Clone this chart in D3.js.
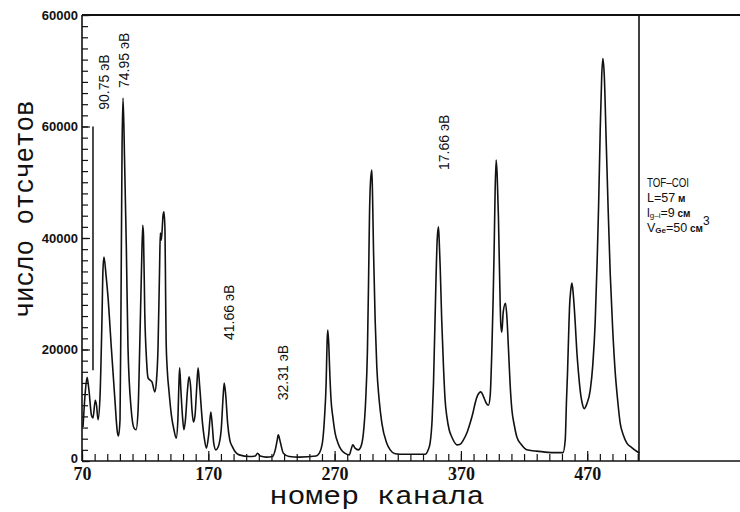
<!DOCTYPE html>
<html>
<head>
<meta charset="utf-8">
<script src="https://cdn.jsdelivr.net/npm/d3@7"></script>
<style>
  body { margin: 0; background: #fff; }
  svg { display: block; }
</style>
</head>
<body>
<svg id="chart" width="740" height="512"></svg>
<script>
// spectrum: [channel, counts]
var spectrum = [
  [70.8, 6100], [72.4, 11800], [74.0, 15000], [75.5, 12700], [77.5, 8200], [78.7, 7700],
  [80.5, 10900], [81.5, 10000], [82.7, 7400], [84.3, 11800], [85.8, 25300], [86.6, 34300],
  [87.4, 36600], [89.0, 33400], [90.6, 29400], [93.2, 20400], [95.9, 11500], [98.0, 5200],
  [98.9, 4500], [100.1, 7400], [100.9, 28900], [101.7, 55800], [102.5, 65100], [103.7, 54000],
  [105.1, 38400], [106.4, 20400], [109.0, 9100], [111.2, 5900], [112.8, 5600], [114.4, 9100],
  [115.7, 20400], [117.1, 34300], [118.1, 42300], [118.7, 40500], [119.7, 26500], [121.1, 18100],
  [122.3, 14900], [123.9, 14500], [125.4, 14200], [127.6, 12400], [129.0, 14500], [130.2, 20400],
  [131.4, 34300], [132.0, 40900], [132.8, 39600], [134.2, 44100], [134.9, 44700], [135.7, 41400],
  [136.2, 30000], [136.6, 21700], [137.6, 16000], [138.8, 12700], [140.8, 8200], [142.8, 5600],
  [144.6, 4100], [145.9, 7400], [146.7, 13600], [147.3, 16700], [148.3, 12700], [149.5, 8200],
  [150.7, 5600], [151.9, 7400], [153.5, 12700], [154.7, 15100], [155.9, 13600], [157.1, 9100],
  [158.2, 7000], [159.5, 8200], [160.7, 12700], [161.9, 16700], [163.1, 13600], [165.4, 6800],
  [166.7, 4300], [168.5, 2300], [170.3, 4700], [172.0, 8800], [173.1, 6500], [174.3, 3200],
  [176.0, 2000], [177.8, 2500], [180.2, 5600], [181.8, 11800], [182.6, 14000], [183.8, 11800],
  [185.3, 6800], [187.0, 3800], [189.2, 2500], [194.5, 1100], [202.5, 800], [207.2, 900],
  [209.0, 1400], [211.1, 900], [215.9, 700], [220.9, 800], [223.0, 2000], [224.6, 3800],
  [225.4, 4700], [227.0, 3400], [229.4, 1400], [234.1, 800], [242.1, 700], [255.3, 900],
  [257.9, 1400], [260.3, 3200], [261.9, 7400], [263.3, 14000], [264.1, 21700], [264.6, 23500],
  [265.4, 20800], [266.0, 16900], [267.2, 10900], [268.6, 7900], [270.4, 5000], [272.7, 3200],
  [278.0, 1400], [281.7, 1100], [283.1, 2100], [284.4, 2900], [286.2, 2300], [288.8, 2000],
  [291.0, 2700], [292.8, 5000], [294.6, 10900], [296.0, 19900], [296.9, 32500], [297.6, 43800],
  [298.5, 50400], [299.5, 52200], [300.1, 46800], [300.8, 37800], [302.1, 25300], [303.4, 16900],
  [305.3, 10900], [307.4, 6800], [311.3, 3200], [314.0, 2000], [317.9, 1300], [325.8, 1200],
  [341.7, 1200], [344.1, 2000], [345.6, 3200], [347.2, 7400], [348.3, 14000], [350.2, 31900],
  [351.2, 39600], [352.2, 42000], [352.8, 39600], [353.6, 34800], [354.8, 25300], [356.2, 16900],
  [357.5, 10900], [358.9, 7900], [360.7, 5600], [362.8, 4300], [366.8, 2900], [369.4, 3000],
  [372.0, 3800], [375.0, 5200], [377.3, 6800], [379.7, 8800], [381.3, 10400], [383.3, 11800],
  [385.8, 12400], [387.6, 11700], [390.0, 10400], [391.8, 10000], [393.2, 11800], [394.5, 19900],
  [395.5, 28900], [396.3, 37800], [397.1, 48600], [397.9, 54000], [398.7, 51300], [399.7, 43800],
  [400.7, 32500], [401.6, 24400], [402.4, 23100], [403.5, 26700], [405.3, 28300], [406.3, 26200],
  [407.7, 19900], [409.0, 13600], [410.4, 9100], [412.2, 6500], [414.3, 4300], [417.7, 3000],
  [422.2, 2000], [428.8, 1800], [436.7, 1600], [446.0, 1500], [450.8, 1500], [452.6, 3800],
  [453.6, 10900], [454.4, 15800], [455.4, 23500], [456.0, 27600], [457.0, 30700], [457.9, 31900],
  [459.0, 29800], [460.5, 24800], [461.7, 19900], [463.1, 15800], [464.9, 11800], [466.0, 10400],
  [467.6, 9400], [469.6, 10200], [472.4, 12700], [474.4, 17200], [476.3, 24800], [477.9, 36100],
  [479.0, 45600], [480.3, 59400], [481.5, 69200], [482.4, 72200], [483.5, 69200], [485.0, 57600],
  [486.6, 45000], [488.2, 33700], [490.2, 23500], [492.2, 15800], [494.1, 10900], [496.1, 6800],
  [498.5, 4700], [501.4, 3200], [504.8, 2500], [509.4, 1700], [511.4, 1400]
];

// vertical marker drawn at the 90.75 eV line
var markerChannel = 78.7;
var markerCounts = [16300, 60000];

// rotated peak labels: text, channel, counts at the start of the text
var peakLabels = [
  ["90.75 эВ", 91.4, 63000],
  ["74.95 эВ", 107.2, 66900],
  ["41.66 эВ", 190.4, 21700],
  ["32.31 эВ", 233.2, 10900],
  ["17.66 эВ", 360.7, 52200]
];

var xMajorTicks = [70, 170, 270, 370, 470];
var yMajorTicks = [0, 20000, 40000, 60000, 80000];
var yTickLabels = ["0", "20000", "40000", "60000", "60000"];

var svg = d3.select("#chart");
var W = 740;

var x = d3.scaleLinear().domain([70, 511]).range([82, 639]);
var y = d3.scaleLinear().domain([0, 80000]).range([461, 15]);

// minor x ticks every 10 channels, pointing up
svg.append("g")
   .attr("transform", "translate(0,461)")
   .call(d3.axisBottom(x).tickValues(d3.range(70, 512, 10)).tickSize(-7).tickFormat(""))
   .call(g => g.select(".domain").remove());

svg.append("g")
   .attr("transform", "translate(0,461)")
   .call(d3.axisBottom(x).tickValues(xMajorTicks).tickSize(-10).tickPadding(6))
   .call(g => g.select(".domain").remove())
   .call(g => g.selectAll("text")
      .attr("font-family", "Liberation Serif")
      .attr("font-weight", "bold")
      .attr("font-size", 18)
      .attr("fill", "#111"));

// y ticks every 2000, pointing right
svg.append("g")
   .attr("transform", "translate(82,0)")
   .call(d3.axisLeft(y).tickValues(d3.range(0, 80001, 2000)).tickSize(-6).tickFormat(""))
   .call(g => g.select(".domain").remove());

svg.append("g")
   .attr("transform", "translate(82,0)")
   .call(d3.axisLeft(y).tickValues(yMajorTicks).tickSize(-8).tickPadding(4)
          .tickFormat((d, i) => yTickLabels[i]))
   .call(g => g.select(".domain").remove())
   .call(g => g.selectAll("text")
      .attr("font-family", "Liberation Sans")
      .attr("font-weight", "bold")
      .attr("font-size", 13)
      .attr("fill", "#111"));

// the "0" sits a little higher so it clears the "70" below it
svg.selectAll("g.tick text").filter(d => d === 0).attr("dy", "0.1em");

svg.selectAll(".tick line").attr("stroke", "#111").attr("stroke-width", 1.2);

// frame: top and bottom run to the right edge
var frame = svg.append("g").attr("stroke", "#111").attr("fill", "none");
frame.append("line").attr("x1", 82).attr("x2", W).attr("y1", y(80000)).attr("y2", y(80000)).attr("stroke-width", 2);
frame.append("line").attr("x1", 82).attr("x2", W).attr("y1", y(0)).attr("y2", y(0)).attr("stroke-width", 1.6);
frame.append("line").attr("x1", 82).attr("x2", 82).attr("y1", y(0)).attr("y2", y(80000)).attr("stroke-width", 1.6);
frame.append("line").attr("x1", x(511)).attr("x2", x(511)).attr("y1", y(0)).attr("y2", y(80000)).attr("stroke-width", 1.6);

var line = d3.line()
    .x(d => x(d[0]))
    .y(d => y(d[1]))
    .curve(d3.curveMonotoneX);

svg.append("path")
   .datum(spectrum)
   .attr("d", line)
   .attr("fill", "none")
   .attr("stroke", "#111")
   .attr("stroke-width", 1.6)
   .attr("stroke-linejoin", "round");

svg.append("line")
   .attr("x1", x(markerChannel)).attr("x2", x(markerChannel))
   .attr("y1", y(markerCounts[0])).attr("y2", y(markerCounts[1]))
   .attr("stroke", "#111").attr("stroke-width", 1.5);

svg.selectAll(".peak")
   .data(peakLabels)
   .join("text")
   .attr("class", "peak")
   .attr("transform", d => "translate(" + x(d[1]) + "," + y(d[2]) + ") rotate(-90)")
   .attr("font-family", "Liberation Sans")
   .attr("font-size", 14)
   .attr("fill", "#111")
   .text(d => d[0]);

// axis titles
svg.append("text")
   .attr("x", 377).attr("y", 504)
   .attr("text-anchor", "middle")
   .attr("font-family", "Liberation Mono")
   .attr("font-size", 26)
   .attr("textLength", 215)
   .attr("lengthAdjust", "spacingAndGlyphs")
   .attr("fill", "#111")
   .text("номер канала");

svg.append("text")
   .attr("transform", "translate(33,209) rotate(-90)")
   .attr("text-anchor", "middle")
   .attr("font-family", "Liberation Mono")
   .attr("font-size", 28)
   .attr("textLength", 217)
   .attr("lengthAdjust", "spacingAndGlyphs")
   .attr("fill", "#111")
   .text("число отсчетов");

// experiment notes on the right
var note = svg.append("g")
   .attr("font-family", "Liberation Sans")
   .attr("fill", "#111");

note.append("text").attr("x", 647).attr("y", 187).attr("font-size", 13)
    .attr("textLength", 42).attr("lengthAdjust", "spacingAndGlyphs").text("TOF–COI");

var t2 = note.append("text").attr("x", 647).attr("y", 202).attr("font-size", 12.5);
t2.append("tspan").text("L=57");
t2.append("tspan").attr("font-size", 10).attr("font-weight", "bold").text(" м");

var t3 = note.append("text").attr("x", 647).attr("y", 216.5).attr("font-size", 12.5);
t3.append("tspan").text("l");
t3.append("tspan").attr("font-size", 8).attr("dy", 1).text("g–i");
t3.append("tspan").attr("dy", -1).text("=9");
t3.append("tspan").attr("font-size", 10).attr("font-weight", "bold").text(" см");

var t4 = note.append("text").attr("x", 647).attr("y", 232).attr("font-size", 12.5);
t4.append("tspan").text("V");
t4.append("tspan").attr("font-size", 8).attr("font-weight", "bold").attr("dy", 1).text("Ge");
t4.append("tspan").attr("dy", -1).text("=50");
t4.append("tspan").attr("font-size", 10).attr("font-weight", "bold").text(" см");
t4.append("tspan").attr("font-size", 12).attr("dy", -7).text("3");
</script>
</body>
</html>
